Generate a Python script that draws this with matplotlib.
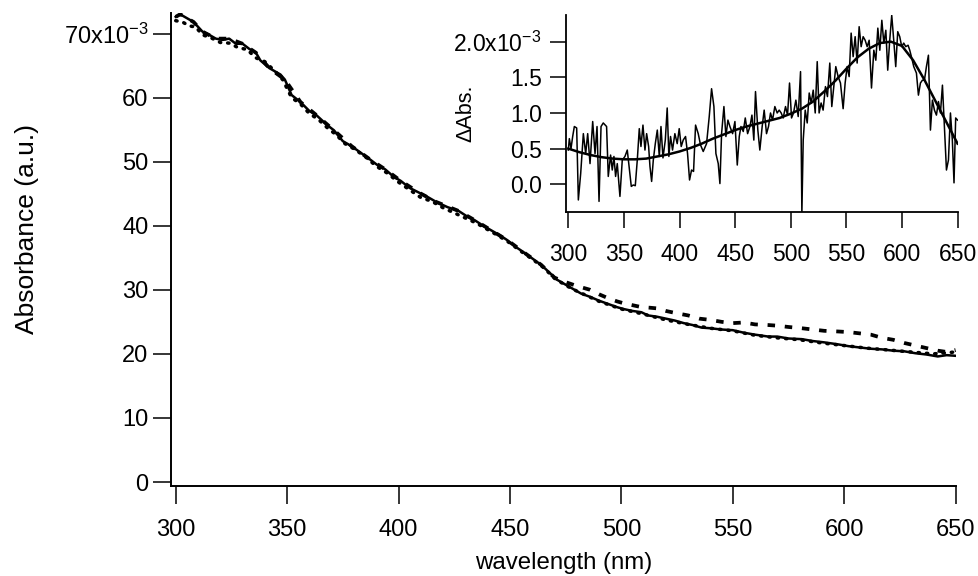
import matplotlib
matplotlib.use("Agg")
import matplotlib.pyplot as plt
from matplotlib.ticker import FixedLocator, FuncFormatter

plt.rcParams['font.family'] = ['Liberation Sans', 'DejaVu Sans']
plt.rcParams['mathtext.default'] = 'regular'

# ---------------- main spectra (absorbance, units of 1e-3) ----------------
solid_wl = [300, 302, 305, 308, 312, 315, 318, 321, 324, 327, 330, 333, 336, 338, 342,
            347, 349, 352, 356, 360, 363, 368, 371, 375, 379, 383, 387, 390, 394, 398,
            401, 405, 409, 413, 417, 422, 427, 431, 434, 438, 442, 446, 449, 453, 456,
            460, 464, 468, 471, 475, 479, 482, 486, 490, 494, 498, 501, 505, 509, 512,
            516, 520, 524, 528, 532, 536, 540, 545, 550, 555, 560, 566, 570, 575, 581,
            586, 591, 597, 602, 607, 612, 617, 622, 627, 632, 637, 642, 646, 650]
solid_abs = [72.6, 73.0, 72.4, 71.8, 70.3, 69.8, 69.2, 69.0, 69.2, 68.4, 68.4, 67.6, 67.0, 65.8, 64.6,
             63.6, 62.8, 60.4, 59.3, 57.9, 57.3, 55.7, 54.9, 53.2, 52.4, 51.4, 50.4, 49.6, 48.8, 47.6,
             47.0, 45.9, 45.2, 44.5, 43.7, 42.9, 42.3, 41.4, 40.9, 40.0, 39.2, 38.4, 37.7, 36.6, 35.9,
             34.9, 33.9, 32.6, 31.6, 30.8, 30.0, 29.4, 28.9, 28.3, 27.8, 27.3, 27.0, 26.7, 26.5, 26.0,
             25.8, 25.5, 25.2, 24.8, 24.5, 24.1, 24.0, 23.8, 23.7, 23.3, 23.0, 22.7, 22.7, 22.4, 22.3,
             22.0, 21.8, 21.5, 21.2, 21.0, 20.8, 20.7, 20.5, 20.4, 20.1, 19.9, 19.6, 19.8, 19.7]

dotted_wl = [300, 303, 306, 309, 312, 316, 320, 324, 328, 332, 336, 340, 344, 348, 352,
             356, 360, 364, 368, 372, 376, 380, 385, 390, 395, 400, 405, 410, 415, 420,
             425, 430, 435, 440, 445, 450, 455, 460, 465, 470, 475, 480, 485, 490, 495,
             500, 510, 520, 530, 540, 550, 560, 570, 580, 590, 600, 610, 620, 630, 640, 650]
dotted_abs = [72.0, 71.8, 71.2, 71.0, 69.8, 69.3, 68.6, 68.5, 67.8, 67.5, 66.2, 65.6, 64.3, 62.8, 60.0,
              59.0, 57.5, 56.6, 55.3, 54.2, 52.8, 52.0, 50.8, 49.3, 48.2, 46.8, 45.6, 44.4, 43.8, 42.8,
              42.0, 41.2, 40.4, 39.4, 38.4, 37.3, 36.0, 34.8, 33.5, 31.8, 30.7, 29.8, 29.0, 28.2, 27.6,
              27.0, 26.2, 25.3, 24.6, 24.0, 23.6, 22.9, 22.5, 22.2, 21.7, 21.3, 20.9, 20.6, 20.3, 20.0, 20.3]

dashed_wl = [300, 302, 305, 308, 312, 318, 324, 330, 336, 342, 349, 356, 363, 371, 379,
             387, 394, 401, 409, 417, 427, 434, 442, 449, 456, 464, 470, 475, 480, 486,
             490, 494, 498, 501, 505, 509, 513, 516, 520, 524, 530, 535, 540, 545, 550,
             555, 560, 566, 570, 575, 581, 586, 591, 597, 602, 607, 612, 617, 622, 627,
             632, 637, 642, 646, 650]
dashed_abs = [72.6, 73.0, 72.4, 71.8, 70.3, 69.2, 69.2, 68.4, 67.0, 64.6, 62.8, 59.3, 57.3, 54.9, 52.4,
              50.4, 48.8, 47.0, 45.2, 43.7, 42.3, 40.9, 39.2, 37.7, 35.9, 33.9, 31.9, 31.2, 30.6, 30.0,
              29.3, 28.7, 28.2, 27.9, 27.6, 27.3, 27.2, 27.1, 26.7, 26.4, 26.0, 25.5, 25.3, 25.0, 24.8,
              24.9, 24.6, 24.5, 24.4, 24.2, 24.0, 23.8, 23.6, 23.5, 23.4, 23.2, 23.0, 22.5, 22.2, 21.7,
              21.3, 20.9, 20.5, 20.3, 20.6]

main_xticks = [300, 350, 400, 450, 500, 550, 600, 650]
main_yticks = [0, 10, 20, 30, 40, 50, 60, 70]

# ---------------- inset: difference spectrum (units of 1e-3) ----------------
diff_wl = [300.0, 300.9, 302.4, 303.9, 305.4, 307.5, 309.0, 311.1, 313.5, 315.6, 317.4, 319.5, 321.9,
           324.0, 325.8, 327.6, 329.4, 331.4, 334.4, 335.9, 338.0, 339.5, 341.0, 342.5, 344.0, 346.4,
           348.5, 350.9, 353.0, 354.8, 356.6, 358.4, 360.2, 362.0, 363.8, 365.3, 367.1, 368.9, 370.4,
           372.2, 373.4, 374.9, 376.4, 378.2, 380.0, 381.8, 383.3, 385.1, 387.2, 388.9, 390.4, 391.9,
           393.7, 395.8, 397.9, 399.7, 401.5, 403.3, 405.4, 407.2, 409.0, 410.8, 412.6, 414.4, 416.8,
           418.9, 421.3, 424.3, 426.7, 428.8, 430.9, 432.7, 434.8, 436.3, 437.8, 439.9, 441.7, 443.5,
           445.3, 447.7, 449.8, 451.9, 453.7, 455.2, 457.3, 459.1, 461.2, 463.3, 465.1, 466.8, 468.3,
           470.4, 472.2, 474.3, 476.1, 478.2, 480.0, 481.8, 483.6, 485.7, 487.8, 489.6, 491.4, 493.2,
           495.3, 497.1, 498.9, 500.7, 502.5, 504.6, 506.7, 508.8, 510.0, 511.2, 513.0, 514.8, 516.6,
           518.4, 520.2, 522.0, 523.8, 525.5, 527.3, 529.1, 531.2, 533.0, 535.1, 536.9, 538.7, 540.5,
           542.6, 544.7, 547.1, 548.9, 550.7, 552.5, 554.3, 556.1, 557.9, 559.7, 561.5, 563.3, 565.1,
           566.9, 568.7, 570.5, 572.6, 574.7, 576.5, 578.3, 580.1, 581.9, 583.7, 585.5, 587.2, 589.0,
           590.8, 592.6, 594.4, 596.2, 598.0, 599.8, 601.6, 603.4, 605.5, 607.0, 608.8, 610.6, 613.0,
           614.8, 616.6, 618.4, 620.2, 622.0, 623.8, 625.6, 627.4, 629.2, 631.0, 632.8, 634.6, 636.4,
           638.2, 640.0, 641.8, 643.6, 645.3, 646.8, 648.3, 650.0]
diff_abs = [0.48, 0.64, 0.50, 0.67, 0.81, 0.79, -0.22, 0.15, 0.71, 0.43, 0.71, 0.29, 0.88,
            0.43, 0.81, -0.24, 0.81, 0.86, 0.81, 0.11, 0.41, 0.20, 0.39, 0.11, 0.29, -0.17,
            0.34, 0.39, 0.48, 0.22, -0.03, -0.01, -0.02, 0.34, 0.78, 0.53, 0.83, 0.48, 0.71,
            0.53, 0.25, 0.04, 0.34, 0.57, 0.76, 0.39, 0.81, 0.37, 0.62, 1.07, 0.39, 0.67,
            0.48, 0.71, 0.57, 0.78, 0.53, 0.62, 0.67, 0.43, 0.06, 0.20, 0.18, 0.83, 0.71,
            0.55, 0.46, 0.57, 0.95, 1.34, 1.09, 0.43, 0.29, 0.01, 0.71, 1.09, 0.67, 0.90,
            0.81, 0.71, 0.88, 0.27, 0.67, 0.81, 0.74, 0.93, 0.71, 0.81, 0.97, 0.62, 1.30,
            0.76, 0.48, 0.81, 1.04, 0.71, 0.81, 1.00, 0.90, 1.09, 1.00, 1.04, 1.00, 0.93,
            1.09, 0.97, 1.42, 0.93, 1.00, 1.18, 0.95, 1.58, -0.41, 0.62, 1.04, 0.86, 1.28,
            1.14, 1.32, 1.00, 1.72, 1.00, 1.14, 1.04, 1.37, 1.23, 1.70, 1.09, 1.37, 1.65,
            1.51, 1.42, 1.06, 1.42, 1.65, 1.51, 2.12, 1.79, 2.07, 1.70, 2.21, 1.93, 2.07,
            2.02, 1.93, 2.02, 1.35, 1.88, 1.74, 2.19, 1.88, 2.30, 1.98, 2.16, 1.60, 2.02,
            2.37, 2.02, 1.65, 2.14, 2.07, 1.93, 1.98, 1.93, 1.95, 1.88, 1.77, 1.65, 1.56,
            1.25, 1.42, 1.46, 1.46, 1.65, 1.81, 0.76, 1.18, 1.04, 0.97, 1.16, 1.00, 1.39,
            0.81, 0.20, 0.34, 1.00, 0.62, 0.02, 0.93, 0.90]

fit_wl = [300, 310, 320, 330, 340, 350, 360, 370, 380, 390, 400, 410, 420, 430, 440, 450, 460, 470,
          480, 490, 500, 510, 520, 530, 540, 550, 560, 570, 580, 590, 600, 610, 620, 630, 640, 650]
fit_abs = [0.50, 0.45, 0.41, 0.38, 0.36, 0.35, 0.35, 0.36, 0.39, 0.42, 0.46, 0.51, 0.57, 0.64, 0.70,
           0.76, 0.81, 0.85, 0.89, 0.93, 0.99, 1.06, 1.16, 1.30, 1.45, 1.62, 1.78, 1.90, 1.98, 2.00,
           1.94, 1.74, 1.47, 1.17, 0.87, 0.57]

inset_xticks = [300, 350, 400, 450, 500, 550, 600, 650]
inset_yticks = [0.0, 0.5, 1.0, 1.5, 2.0]

W, H = 979, 576
fig = plt.figure(figsize=(W / 100, H / 100), dpi=100)

def px_axes(x0, y0, x1, y1):
    return fig.add_axes([x0 / W, 1 - y1 / H, (x1 - x0) / W, (y1 - y0) / H])

FS = 17
FS_IN = 16.5

# ---------------- main axes ----------------
ax = px_axes(170.7, 13, 956, 486)
ax.plot(solid_wl, solid_abs, color='black', lw=1.8, solid_joinstyle='round')
ax.plot(dotted_wl, dotted_abs, color='black', lw=2.5, linestyle=(0, (0.4, 2.0)),
        dash_capstyle='round')
ax.plot(dashed_wl, dashed_abs, color='black', lw=2.7, linestyle=(0, (2.0, 2.6)),
        dash_capstyle='butt')
ax.set_xlim(297.75, 650.2)
ax.set_ylim(-0.62, 73.2)
ax.xaxis.set_major_locator(FixedLocator(main_xticks))
ax.yaxis.set_major_locator(FixedLocator(main_yticks))
ax.yaxis.set_major_formatter(FuncFormatter(
    lambda v, p: r'70x10$^{\mathregular{-3}}$' if v == 70 else f'{v:.0f}'))
for s in ['top', 'right']:
    ax.spines[s].set_visible(False)
for s in ['left', 'bottom']:
    ax.spines[s].set_linewidth(1.4)
ax.tick_params(axis='x', direction='out', length=13, width=1.1, pad=11, labelsize=FS)
ax.tick_params(axis='y', direction='out', length=13, width=1.1, pad=3, labelsize=FS)
ax.set_xlabel('wavelength (nm)', fontsize=17.3, labelpad=8)
fig.text(27 / W, 1 - 229 / H, 'Absorbance (a.u.)', rotation=90, fontsize=19,
         ha='center', va='center')

# ---------------- inset axes ----------------
ins = px_axes(566, 15, 957.9, 212.3)
ins.patch.set_alpha(0)
ins.plot(diff_wl, diff_abs, color='black', lw=1.1)
ins.plot(fit_wl, fit_abs, color='black', lw=1.8)
ins.set_xlim(297.9, 650.3)
ins.set_ylim(-0.393, 2.374)
ins.xaxis.set_major_locator(FixedLocator(inset_xticks))
ins.yaxis.set_major_locator(FixedLocator(inset_yticks))
ins.yaxis.set_major_formatter(FuncFormatter(
    lambda v, p: r'2.0x10$^{\mathregular{-3}}$' if abs(v - 2.0) < 1e-9 else f'{v:.1f}'))
for s in ['top', 'right']:
    ins.spines[s].set_visible(False)
for s in ['left', 'bottom']:
    ins.spines[s].set_linewidth(1.3)
ins.tick_params(axis='x', direction='out', length=11.5, width=1.1, pad=10.5, labelsize=FS_IN)
ins.tick_params(axis='y', direction='out', length=11.5, width=1.1, pad=6, labelsize=FS_IN)
ins.set_ylabel('ΔAbs.', fontsize=15.5)
ins.yaxis.set_label_coords(-0.228, 0.5)

fig.savefig('out.png', dpi=100)
